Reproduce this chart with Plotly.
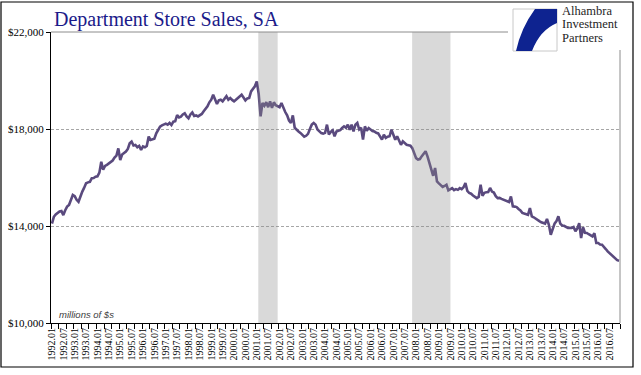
import plotly.graph_objects as go

# ---------------- data ----------------
start_year = 1992
sales_1992 = [14100, 14380, 14480, 14550, 14600, 14620, 14450, 14650, 14800, 14870, 15050, 15280]
sales_1993 = [15230, 15080, 15000, 15250, 15420, 15580, 15760, 15800, 15820, 15970, 15980, 16030]
sales_1994 = [16050, 16200, 16650, 16320, 16480, 16520, 16580, 16650, 16700, 16820, 16900, 17200]
sales_1995 = [16720, 16950, 17000, 17070, 17180, 17410, 17480, 17320, 17340, 17250, 17300, 17140]
sales_1996 = [17280, 17250, 17300, 17690, 17550, 17580, 17600, 17820, 17950, 18100, 18150, 18200]
sales_1997 = [18220, 18180, 18250, 18160, 18300, 18320, 18570, 18480, 18510, 18600, 18650, 18520]
sales_1998 = [18440, 18600, 18680, 18540, 18560, 18520, 18580, 18620, 18730, 18820, 18935, 19100]
sales_1999 = [19210, 19415, 19180, 19030, 19180, 19210, 19140, 19250, 19350, 19210, 19280, 19200]
sales_2000 = [19140, 19210, 19280, 19350, 19415, 19300, 19180, 19260, 19280, 19550, 19650, 19760]
sales_2001 = [19960, 19450, 18520, 19070, 18960, 19110, 18900, 19140, 18870, 19100, 18980, 18950]
sales_2002 = [18900, 19070, 18850, 18700, 18560, 18350, 18250, 18560, 18050, 17950, 17900, 17840]
sales_2003 = [17760, 17680, 17720, 17800, 18000, 18180, 18250, 18180, 17980, 17880, 17830, 17810]
sales_2004 = [17840, 18180, 17770, 17880, 17945, 17700, 17900, 17930, 17950, 18040, 18110, 18050]
sales_2005 = [18180, 17970, 18180, 17900, 18180, 18250, 17980, 18050, 17560, 18110, 17930, 18040]
sales_2006 = [17970, 17920, 17900, 17840, 17820, 17700, 17560, 17770, 17630, 17680, 17700, 17970]
sales_2007 = [17760, 17560, 17700, 17490, 17350, 17490, 17400, 17350, 17330, 17310, 17210, 17010]
sales_2008 = [16800, 16740, 16760, 16880, 16960, 17080, 16870, 16600, 16250, 16070, 16390, 15840]
sales_2009 = [15760, 15700, 15610, 15650, 15700, 15470, 15520, 15560, 15480, 15520, 15490, 15560]
sales_2010 = [15520, 15600, 15770, 15450, 15360, 15330, 15260, 15220, 15150, 15200, 15700, 15250]
sales_2011 = [15370, 15390, 15400, 15570, 15420, 15380, 15230, 15150, 15160, 15120, 15090, 15060]
sales_2012 = [15010, 14990, 15220, 14810, 14800, 14780, 14700, 14640, 14540, 14510, 14470, 14460]
sales_2013 = [14740, 14400, 14360, 14300, 14230, 14200, 14150, 14120, 14100, 14290, 14050, 13640]
sales_2014 = [13920, 14100, 14200, 14400, 14100, 14020, 14010, 13960, 13920, 13930, 13920, 13960]
sales_2015 = [13780, 13900, 14120, 13500, 13950, 13720, 13710, 13660, 13620, 13570, 13700, 13300]
sales_2016 = [13300, 13240, 13230, 13160, 13050, 12955, 12880, 12820, 12730, 12640, 12590, 12570]

sales = (sales_1992 + sales_1993 + sales_1994 + sales_1995 + sales_1996 + sales_1997 +
         sales_1998 + sales_1999 + sales_2000 + sales_2001 + sales_2002 + sales_2003 +
         sales_2004 + sales_2005 + sales_2006 + sales_2007 + sales_2008 + sales_2009 +
         sales_2010 + sales_2011 + sales_2012 + sales_2013 + sales_2014 + sales_2015 +
         sales_2016)
n = len(sales)
month_labels = [f"{start_year + i // 12}.{i % 12 + 1:02d}" for i in range(n)]

# recession periods (in month-index units on the category axis)
recession_starts = [109.3, 190.4]
recession_ends = [119.5, 210.6]

y_ticks = [10000, 14000, 18000, 22000]
y_tick_labels = ["$10,000", "$14,000", "$18,000", "$22,000"]
title_text = "Department Store Sales, SA"
units_text = "millions of $s"
logo_lines = ["Alhambra", "Investment", "Partners"]

# ---------------- layout helpers (pixel -> paper) ----------------
W, H = 641, 375
ML, MR, MT, MB = 51, 21, 32, 52
PW, PH = W - ML - MR, H - MT - MB


def px(x):
    return (x - ML) / PW


def py(y):
    return (H - MB - y) / PH


serif = "Liberation Serif, Times New Roman, serif"

fig = go.Figure()
fig.add_trace(go.Scatter(
    x=[i + 0.5 for i in range(n)], y=sales, mode="lines",
    line=dict(color="#5A4A7E", width=2.6), hoverinfo="skip", showlegend=False))

shapes = []
for s, e in zip(recession_starts, recession_ends):
    shapes.append(dict(type="rect", xref="x", yref="paper", x0=s, x1=e, y0=0, y1=1,
                       fillcolor="rgba(140,140,140,0.33)", line=dict(width=0), layer="above"))
# plot-area border (top and right, gray)
shapes.append(dict(type="line", xref="paper", yref="paper", x0=0, x1=1, y0=1, y1=1,
                   line=dict(color="#8C8C8C", width=1), layer="above"))
shapes.append(dict(type="line", xref="paper", yref="paper", x0=1, x1=1, y0=0, y1=1,
                   line=dict(color="#8C8C8C", width=1), layer="above"))
# logo white background
shapes.append(dict(type="rect", xref="paper", yref="paper", x0=px(508), x1=px(641), y0=py(50), y1=py(0),
                   fillcolor="white", line=dict(width=0), layer="above"))
# logo emblem square
shapes.append(dict(type="rect", xref="paper", yref="paper", x0=px(513), x1=px(557), y0=py(51), y1=py(9),
                   fillcolor="white", line=dict(color="#C8C8C8", width=1), layer="above"))
path = f"M {px(535)},{py(9)} L {px(557)},{py(9)} L {px(557)},{py(23)} " \
       f"Q {px(540)},{py(30)} {px(532)},{py(51)} L {px(516)},{py(51)} " \
       f"Q {px(521)},{py(28)} {px(535)},{py(9)} Z"
shapes.append(dict(type="path", xref="paper", yref="paper", path=path,
                   fillcolor="#0E2390", line=dict(width=0), layer="above"))
# outer chart border
shapes.append(dict(type="rect", xref="paper", yref="paper", x0=px(1), x1=px(633), y0=py(367), y1=py(2),
                   fillcolor="rgba(0,0,0,0)", line=dict(color="black", width=1.2), layer="above"))

annotations = [
    dict(text=title_text, xref="paper", yref="paper", x=px(52), y=py(19.5), xanchor="left", yanchor="middle",
         showarrow=False, font=dict(family=serif, size=20, color="#1B1B8A")),
    dict(text=f"<i>{units_text}</i>", xref="paper", yref="paper", x=px(57), y=py(314), xanchor="left",
         yanchor="middle", showarrow=False,
         font=dict(family="Liberation Sans, Arial, sans-serif", size=9.5, color="#404040")),
]
for k, t in enumerate(logo_lines):
    annotations.append(dict(text=t, xref="paper", yref="paper", x=px(560), y=py(10.5 + 13.5 * k),
                            xanchor="left", yanchor="middle", showarrow=False,
                            font=dict(family=serif, size=12.5, color="#1E1E1E")))

fig.update_layout(
    width=W, height=H, margin=dict(l=ML, r=MR, t=MT, b=MB, pad=0, autoexpand=False),
    paper_bgcolor="white", plot_bgcolor="white",
    shapes=shapes, annotations=annotations,
    xaxis=dict(range=[0, n], showline=True, linecolor="black", linewidth=1, automargin=False,
               tickmode="array", tickvals=[i + 0.5 for i in range(0, n, 6)],
               ticktext=[month_labels[i] for i in range(0, n, 6)],
               tickangle=-90, ticks="", showgrid=False, zeroline=False,
               tickfont=dict(family=serif, size=10, color="black"),
               minor=dict(tickmode="array", tickvals=list(range(0, n + 1, 4)), ticks="outside",
                          ticklen=5, tickcolor="black", tickwidth=1, showgrid=False)),
    yaxis=dict(range=[10000, 22000], tickmode="array", tickvals=y_ticks, ticktext=y_tick_labels,
               automargin=False,
               showline=True, linecolor="black", linewidth=1, ticks="outside", ticklen=4,
               tickcolor="black", showgrid=True, gridcolor="#A6A6A6", griddash="3px,2px", gridwidth=1,
               zeroline=False, tickfont=dict(family=serif, size=11, color="black")),
)

fig.write_html("out.html", config={"displayModeBar": False},
               post_script="document.body.style.margin='0';document.body.style.overflow='hidden';")
